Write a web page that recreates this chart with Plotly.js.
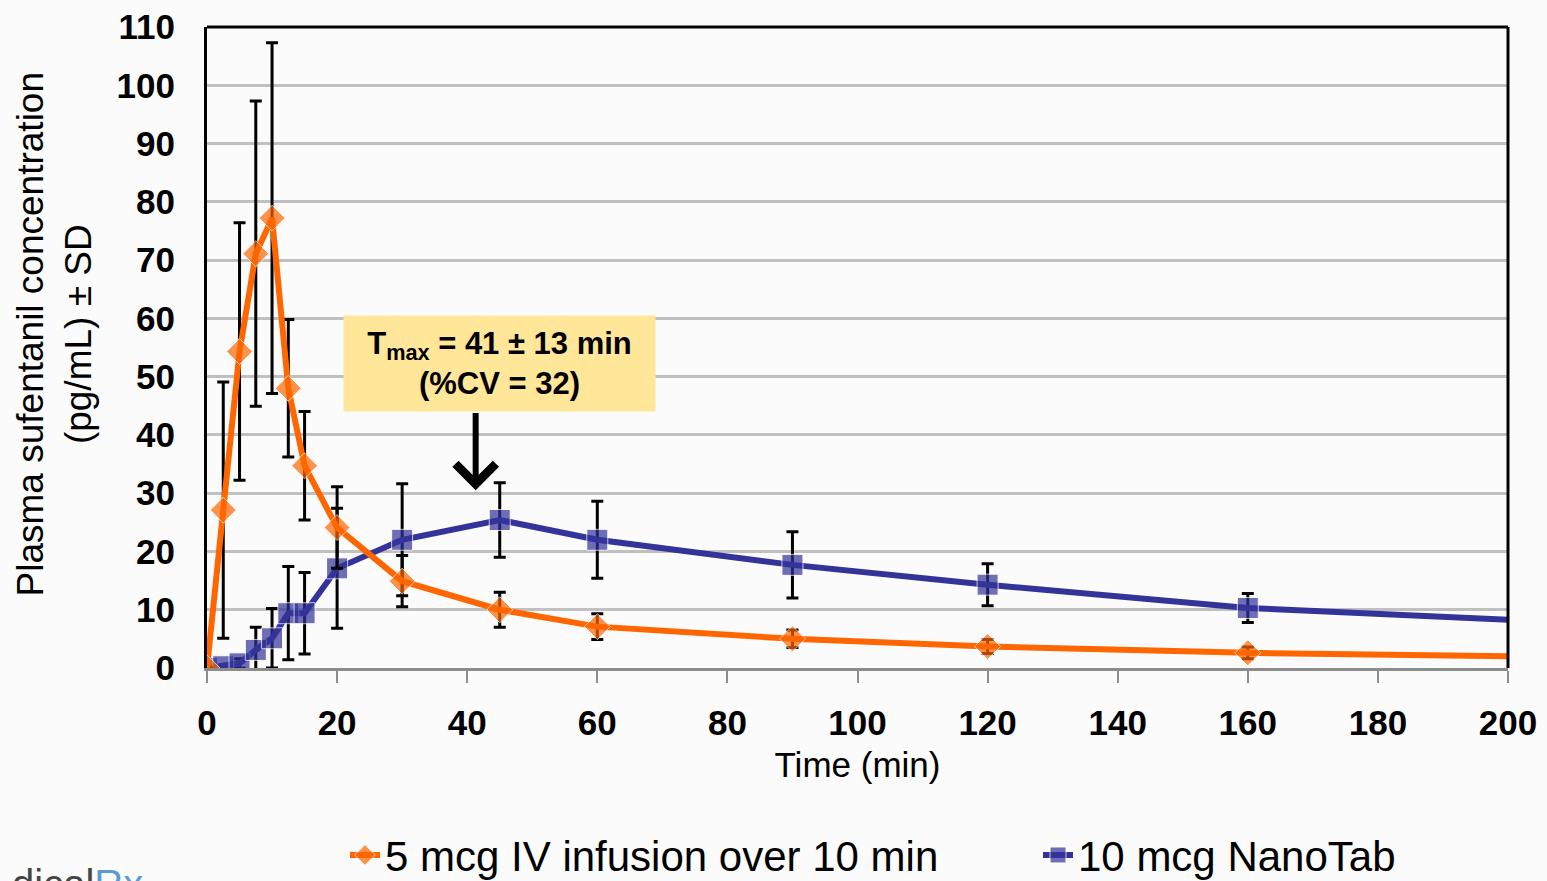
<!DOCTYPE html>
<html><head><meta charset="utf-8">
<script src="https://cdn.plot.ly/plotly-3.0.1.min.js"></script>
<style>html,body{margin:0;padding:0;background:#fbfbfb;}#chart{width:1547px;height:881px;}</style>
</head><body><div id="chart"></div>
<script>
// Data
const ivTime   = [0, 2.5, 5, 7.5, 10, 12.5, 15, 20, 30, 45, 60, 90, 120, 160, 200];
const ivConc   = [0, 27.1, 54.3, 71.1, 77.2, 48.0, 34.7, 24.1, 14.9, 10.0, 7.1, 5.0, 3.7, 2.6, 2.0];
const ivSD     = [0, 22.0, 22.1, 26.2, 30.1, 11.8, 9.3, 7.0, 4.4, 3.0, 2.2, 1.5, 1.2, 1.0, 0];

const ntTime   = [0, 2.5, 5, 7.5, 10, 12.5, 15, 20, 30, 45, 60, 90, 120, 160, 200];
const ntConc   = [0, 0.3, 0.8, 3.1, 5.1, 9.4, 9.4, 17.1, 22.0, 25.4, 22.0, 17.7, 14.3, 10.3, 8.3];
const ntSD     = [0, 0, 0.8, 3.9, 5.1, 8.0, 7.0, 10.3, 9.6, 6.4, 6.6, 5.7, 3.6, 2.5, 0];

const ivName = '5 mcg IV infusion over 10 min';
const ntName = '10 mcg NanoTab';
const xTicks = [0, 20, 40, 60, 80, 100, 120, 140, 160, 180, 200];
const yTicks = [0, 10, 20, 30, 40, 50, 60, 70, 80, 90, 100, 110];

// last point (plot edge) is drawn without a marker
const sizesFor = (arr, s) => arr.map((_, i) => i === arr.length - 1 ? 0 : s);

const F = 'Liberation Sans, Arial, sans-serif';

const traces = [
  {
    x: ntTime, y: ntConc, name: ntName, type: 'scatter', mode: 'lines+markers',
    line: {color: '#333399', width: 6},
    marker: {symbol: 'square', color: '#333399', size: sizesFor(ntTime, 21)},
    error_y: {type: 'data', array: ntSD, visible: true, color: '#000', thickness: 3, width: 6},
    legendwidth: 340
  },
  {
    x: ivTime, y: ivConc, name: ivName, type: 'scatter', mode: 'lines+markers',
    line: {color: '#FF6600', width: 6},
    marker: {symbol: 'diamond', color: '#FF6600', size: sizesFor(ivTime, 20)},
    error_y: {type: 'data', array: ivSD, visible: true, color: '#000', thickness: 3, width: 6},
    legendwidth: 648
  }
];

const layout = {
  width: 1547, height: 881,
  paper_bgcolor: '#fbfbfb', plot_bgcolor: '#fbfbfb',
  margin: {l: 207, r: 39, t: 27, b: 213, autoexpand: false},
  font: {family: F, color: '#000'},
  showlegend: true,
  legend: {orientation: 'h', x: (345 - 207) / 1301, xanchor: 'left', y: -0.292, yanchor: 'middle',
           traceorder: 'reversed', font: {family: F, size: 42, color: '#000'},
           bgcolor: 'rgba(0,0,0,0)'},
  xaxis: {
    range: [0, 200], tickvals: xTicks, ticktext: xTicks.map(String),
    showgrid: false, zeroline: false, automargin: false,
    showline: true, linecolor: '#8c8c8c', linewidth: 3,
    ticks: 'outside', ticklen: 12, tickwidth: 2, tickcolor: '#8c8c8c',
    tickfont: {family: F, size: 35, color: '#000', weight: 'bold'},
    ticklabelstandoff: 10,
    title: {text: 'Time (min)', font: {family: F, size: 35, color: '#000'}, standoff: 12}
  },
  yaxis: {
    range: [0, 110], tickvals: yTicks, ticktext: yTicks.map(String),
    showgrid: true, gridcolor: '#c0c0c0', gridwidth: 3, zeroline: false, automargin: false,
    showline: true, linecolor: '#000', linewidth: 3,
    ticks: '', tickfont: {family: F, size: 35, color: '#000', weight: 'bold'},
    ticklabelstandoff: 22
  },
  shapes: [
    {type: 'line', xref: 'paper', yref: 'paper', x0: 0, x1: 1, y0: 1, y1: 1, line: {color: '#000', width: 3}},
    {type: 'line', xref: 'paper', yref: 'paper', x0: 1, x1: 1, y0: 0, y1: 1, line: {color: '#000', width: 3}}
  ],
  annotations: [
    {xref: 'paper', yref: 'paper', x: -0.117, y: 0.52, xanchor: 'center', yanchor: 'middle',
     textangle: -90, showarrow: false,
     text: 'Plasma sufentanil concentration<br>(pg/mL) ± SD',
     font: {family: F, size: 37, color: '#000'}},
    {xref: 'x', yref: 'y', x: 44.9, y: 52.3, xanchor: 'center', yanchor: 'middle', showarrow: false,
     text: 'T<sub>max</sub> = 41 ± 13 min<br>(%CV = 32)',
     font: {family: F, size: 31, color: '#000', weight: 'bold'},
     bgcolor: '#FFE699', width: 301, height: 85, borderpad: 5, align: 'center'},
    {xref: 'x', yref: 'y', x: 41.3, y: 30.5, ax: 41.3, ay: 44.0, axref: 'x', ayref: 'y',
     text: '', showarrow: true, arrowhead: 4, arrowsize: 1.3, arrowwidth: 6, arrowcolor: '#000'},
    {xref: 'paper', yref: 'paper', x: (145 - 207) / 1301, y: (668 - 860) / 641, xanchor: 'right', yanchor: 'top',
     showarrow: false,
     text: 'dical<span style="color:#5b9bd5">Rx</span>', font: {family: F, size: 40, color: '#444'}}
  ]
};

Plotly.newPlot('chart', traces, layout, {displayModeBar: false, staticPlot: true});
</script>
</body></html>
